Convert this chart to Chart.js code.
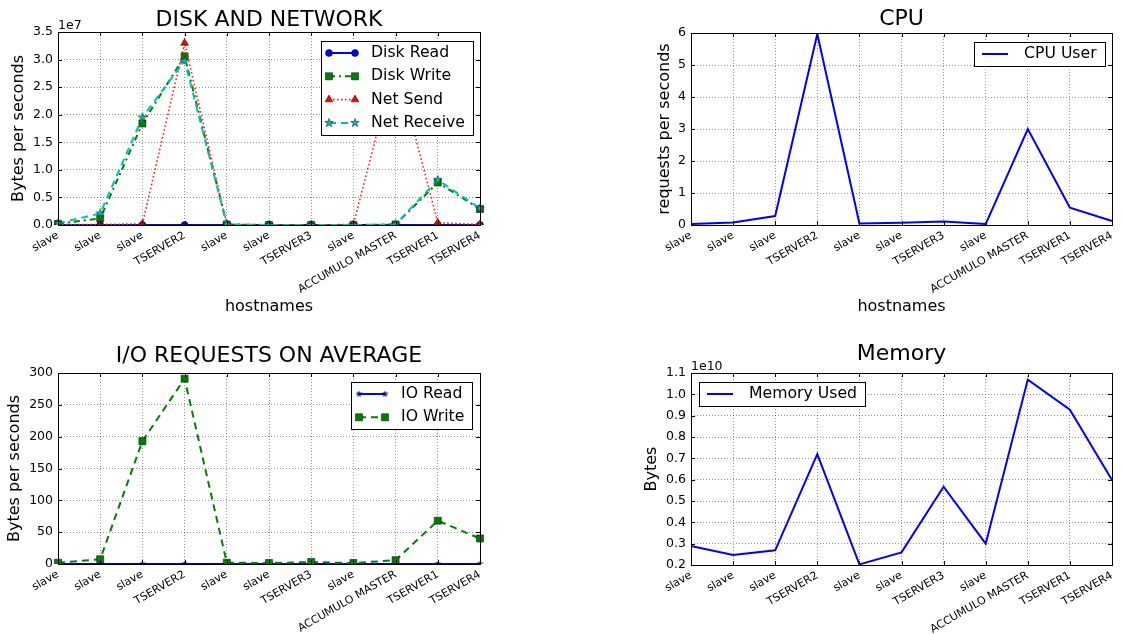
<!DOCTYPE html>
<html lang="en">
<head>
  <meta charset="UTF-8" />
  <title>Cluster Metrics</title>
  <script src="https://cdn.jsdelivr.net/npm/chart.js"></script>
  <style>
    html, body { margin: 0; padding: 0; background: #fff; }
    .wrap { position: relative; width: 1125px; height: 634px; overflow: hidden; background: #fff; }
    canvas { position: absolute; }
  </style>
</head>
<body>

  <div class="wrap">
    <canvas id="diskChart" width="562" height="317" style="left:0;top:0"></canvas>
    <canvas id="cpuChart" width="505" height="317" style="left:620px;top:0"></canvas>
    <canvas id="ioChart" width="562" height="317" style="left:0;top:317px"></canvas>
    <canvas id="memChart" width="505" height="317" style="left:620px;top:317px"></canvas>
  </div>

  <script>
    const hostnames = ['slave', 'slave', 'slave', 'TSERVER2', 'slave', 'slave', 'TSERVER3', 'slave', 'ACCUMULO MASTER', 'TSERVER1', 'TSERVER4'];

    // bytes per second
    const diskRead = [0, 0, 0, 0, 0, 0, 0, 0, 0, 0, 0];
    const diskWrite = [2e5, 1.2e6, 1.84e7, 3.06e7, 1e5, 0, 0, 0, 1e5, 7.7e6, 2.9e6];
    const netSend = [1e5, 1e5, 2e5, 3.3e7, 1e5, 0, 0, 1e5, 2.97e7, 4e5, 1e5];
    const netReceive = [3e5, 2.1e6, 1.95e7, 2.98e7, 1e5, 0, 0, 0, 1e5, 8.2e6, 3.0e6];

    // requests per second
    const cpuUser = [0.03, 0.08, 0.28, 5.97, 0.05, 0.07, 0.11, 0.03, 3.0, 0.54, 0.125];

    const ioRead = [0, 0, 0, 0, 0, 0, 0, 0, 0, 0, 0];
    const ioWrite = [2, 7.5, 193, 291, 2, 1.5, 3, 1.5, 6, 68, 40];

    // bytes
    const memoryUsed = [2.89e9, 2.47e9, 2.69e9, 7.2e9, 2.03e9, 2.59e9, 5.67e9, 3.0e9, 1.069e10, 9.28e9, 5.98e9];

    Chart.defaults.font.family = '"DejaVu Sans", sans-serif';
    Chart.defaults.color = '#000';

    const gridColor = 'rgba(0,0,0,0.42)';

    function starImage(size, fill) {
      const c = document.createElement('canvas');
      c.width = c.height = size;
      const g = c.getContext('2d');
      const r = size / 2 - 0.5, ri = r * 0.4;
      g.beginPath();
      for (let k = 0; k < 10; k++) {
        const ang = -Math.PI / 2 + k * Math.PI / 5;
        const rr = k % 2 ? ri : r;
        g.lineTo(size / 2 + rr * Math.cos(ang), size / 2 + rr * Math.sin(ang));
      }
      g.closePath();
      g.fillStyle = fill;
      g.fill();
      g.strokeStyle = '#000';
      g.lineWidth = 0.5;
      g.stroke();
      return c;
    }

    // matplotlib-like frame, inward ticks, offset text and legend box
    const mplBox = {
      id: 'mplBox',
      afterDatasetsDraw(chart) {
        const { ctx, chartArea: a, scales: { x, y } } = chart;
        ctx.save();
        ctx.strokeStyle = '#000';
        ctx.lineWidth = 1;
        ctx.beginPath();
        x.ticks.forEach((t, i) => {
          const px = Math.round(x.getPixelForTick(i)) + 0.5;
          ctx.moveTo(px, a.bottom); ctx.lineTo(px, a.bottom - 4);
          ctx.moveTo(px, a.top); ctx.lineTo(px, a.top + 4);
        });
        y.ticks.forEach((t, i) => {
          const py = Math.round(y.getPixelForTick(i)) + 0.5;
          ctx.moveTo(a.left, py); ctx.lineTo(a.left + 4, py);
          ctx.moveTo(a.right, py); ctx.lineTo(a.right - 4, py);
        });
        ctx.stroke();
        ctx.strokeRect(Math.round(a.left) + 0.5, Math.round(a.top) + 0.5,
          Math.round(a.right - a.left), Math.round(a.bottom - a.top));
        ctx.restore();
      },
      afterDraw(chart, args, opts) {
        const { ctx, chartArea: a } = chart;
        ctx.save();
        if (opts.offsetText) {
          ctx.font = '12.5px "DejaVu Sans"';
          ctx.fillStyle = '#000';
          ctx.textAlign = 'left';
          ctx.textBaseline = 'alphabetic';
          ctx.fillText(opts.offsetText, a.left, a.top - 3.5);
        }
        const items = chart.data.datasets;
        ctx.font = '15.7px "DejaVu Sans"';
        const textW = Math.max(...items.map(d => ctx.measureText(d.label).width));
        const handle = 26, padL = 8, gap = 16, padR = 8, rowH = 23.3, padT = 12, padB = 12;
        const w = padL + handle + gap + textW + padR;
        const h = padT + rowH * (items.length - 1) + padB;
        const x0 = Math.round(opts.legendSide === 'left' ? a.left + 7.5 : a.right - 7.5 - w);
        const y0 = Math.round(a.top + 8.5);
        ctx.fillStyle = '#fff';
        ctx.fillRect(x0, y0, w, h);
        ctx.strokeStyle = '#000';
        ctx.lineWidth = 1;
        ctx.strokeRect(x0 + 0.5, y0 + 0.5, Math.round(w), Math.round(h));
        items.forEach((d, i) => {
          const yy = y0 + padT + i * rowH;
          const xs = x0 + padL, xe = xs + handle;
          ctx.setLineDash(d.borderDash || []);
          ctx.strokeStyle = d.borderColor;
          ctx.lineWidth = d.borderWidth;
          ctx.beginPath(); ctx.moveTo(xs, yy); ctx.lineTo(xe, yy); ctx.stroke();
          ctx.setLineDash([]);
          if (d.pointRadius > 0) {
            ctx.fillStyle = d.pointBackgroundColor;
            ctx.strokeStyle = d.pointBorderColor;
            ctx.lineWidth = d.pointBorderWidth;
            [xs, xe].forEach(px => Chart.helpers.drawPoint(ctx, {
              pointStyle: d.pointStyle, radius: d.pointRadius, rotation: 0, borderWidth: d.pointBorderWidth
            }, px, yy));
          }
          ctx.fillStyle = '#000';
          ctx.textAlign = 'left';
          ctx.textBaseline = 'middle';
          ctx.fillText(d.label, xe + gap, yy);
        });
        ctx.restore();
      }
    };

    function series(label, data, color, extra) {
      return Object.assign({
        label: label,
        data: data,
        borderColor: color,
        backgroundColor: color,
        borderWidth: 2,
        pointRadius: 0,
        pointBackgroundColor: color,
        pointBorderColor: '#000',
        pointBorderWidth: 0.5,
        tension: 0
      }, extra);
    }

    function drawChart(id, o) {
      return new Chart(document.getElementById(id), {
        type: 'line',
        data: { labels: hostnames, datasets: o.datasets },
        options: {
          responsive: false,
          animation: false,
          events: [],
          layout: { padding: { right: o.padRight } },
          plugins: {
            legend: { display: false },
            tooltip: { enabled: false },
            title: {
              display: true, text: o.title, fullSize: false, color: '#000',
              font: { size: 22, weight: 'normal', lineHeight: 1 },
              padding: o.titlePad
            },
            mplBox: { legendSide: o.legendSide, offsetText: o.offsetText }
          },
          scales: {
            x: {
              ticks: { autoSkip: false, maxRotation: 30, minRotation: 30, font: { size: 11 }, padding: 4, color: '#000' },
              grid: { color: gridColor, lineWidth: 1, drawTicks: false },
              border: { display: false, dash: [1, 2] },
              title: {
                display: !!o.xTitle, text: o.xTitle || '', color: '#000',
                font: { size: 16 }, padding: { top: 0, bottom: 0.5 }
              },
              afterFit: s => { s.height = o.xHeight; }
            },
            y: {
              min: o.yMin, max: o.yMax,
              ticks: { stepSize: o.yStep, callback: o.yFormat, font: { size: 12.5 }, padding: 5, color: '#000' },
              grid: { color: gridColor, lineWidth: 1, drawTicks: false },
              border: { display: false, dash: [1, 2] },
              title: {
                display: true, text: o.yTitle, color: '#000',
                font: { size: 16 }, padding: { top: o.yTitlePad, bottom: 0 }
              },
              afterFit: s => { s.width = o.yWidth; }
            }
          }
        },
        plugins: [mplBox]
      });
    }

    drawChart('diskChart', {
      title: 'DISK AND NETWORK',
      titlePad: { top: 9, bottom: 1 },
      xTitle: 'hostnames',
      xHeight: 92,
      yTitle: 'Bytes per seconds',
      yTitlePad: 8.8,
      yWidth: 58,
      padRight: 82,
      yMin: 0, yMax: 3.5e7, yStep: 5e6,
      yFormat: v => (v / 1e7).toFixed(1),
      offsetText: '1e7',
      legendSide: 'right',
      datasets: [
        series('Disk Read', diskRead, '#0000ff', { pointStyle: 'circle', pointRadius: 3.5, order: 3 }),
        series('Disk Write', diskWrite, '#008000', { pointStyle: 'rect', pointRadius: 5, borderDash: [6, 4, 2, 4], order: 2 }),
        series('Net Send', netSend, '#ff2020', { pointStyle: 'triangle', pointRadius: 4.5, borderWidth: 1.6, borderDash: [1.6, 2.4], pointBackgroundColor: '#ff0000', order: 1 }),
        series('Net Receive', netReceive, '#00bfbf', { pointStyle: starImage(10, '#00bfbf'), pointRadius: 5, borderDash: [7, 5], order: 0 })
      ]
    });

    drawChart('cpuChart', {
      title: 'CPU',
      titlePad: { top: 8.5, bottom: 2.5 },
      xTitle: 'hostnames',
      xHeight: 92,
      yTitle: 'requests per seconds',
      yTitlePad: 35.4,
      yWidth: 71,
      padRight: 13,
      yMin: 0, yMax: 6, yStep: 1,
      yFormat: v => String(v),
      legendSide: 'right',
      datasets: [
        series('CPU User', cpuUser, '#0000ff', {})
      ]
    });

    drawChart('ioChart', {
      title: 'I/O REQUESTS ON AVERAGE',
      titlePad: { top: 28, bottom: 6 },
      xHeight: 70,
      yTitle: 'Bytes per seconds',
      yTitlePad: 5,
      yWidth: 58,
      padRight: 82,
      yMin: 0, yMax: 300, yStep: 50,
      yFormat: v => String(v),
      legendSide: 'right',
      datasets: [
        series('IO Read', ioRead, '#0000ff', { pointStyle: starImage(7, '#0000ff'), pointRadius: 3.5, order: 1 }),
        series('IO Write', ioWrite, '#008000', { pointStyle: 'rect', pointRadius: 5, borderDash: [7, 5], order: 0 })
      ]
    });

    drawChart('memChart', {
      title: 'Memory',
      titlePad: { top: 26, bottom: 8 },
      xHeight: 69,
      yTitle: 'Bytes',
      yTitlePad: 22.4,
      yWidth: 71,
      padRight: 13,
      yMin: 2e9, yMax: 1.1e10, yStep: 1e9,
      yFormat: v => (v / 1e10).toFixed(1),
      offsetText: '1e10',
      legendSide: 'left',
      datasets: [
        series('Memory Used', memoryUsed, '#0000ff', {})
      ]
    });
  </script>

</body>
</html>
